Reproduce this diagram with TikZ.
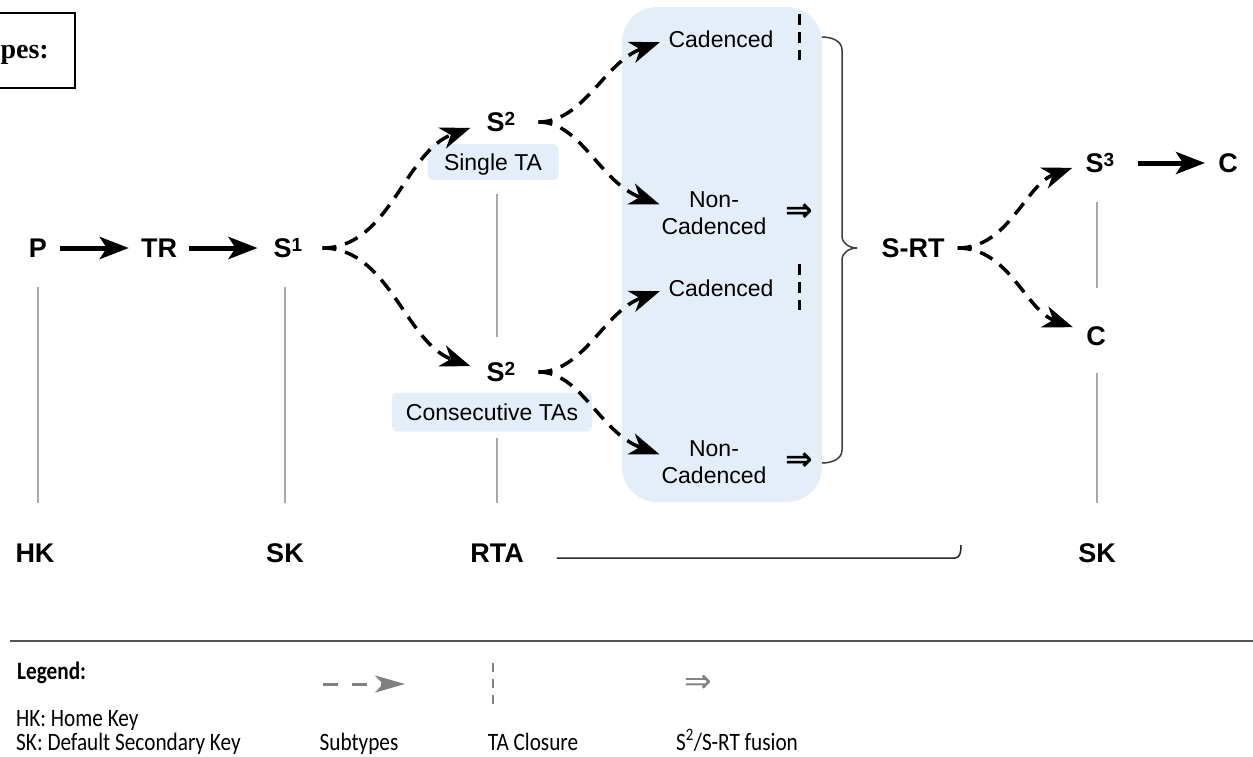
\documentclass[tikz,border=0pt]{standalone}
\usepackage{fontspec}
\setmainfont{Liberation Sans}
\newfontfamily\legfont[FakeStretch=0.85]{Carlito}
\newfontfamily\serfont{Liberation Serif}
\newfontfamily\symfont{DejaVu Sans}
\usetikzlibrary{arrows.meta,calc}
\definecolor{zonefill}{RGB}{228,238,248}
\definecolor{keygray}{RGB}{168,168,168}
\definecolor{leggray}{RGB}{128,128,128}
\definecolor{rulegray}{RGB}{85,85,85}
\definecolor{bracegray}{RGB}{60,60,60}
\newcommand\supx[1]{\raisebox{6.5pt}{\fontsize{19}{19}\selectfont #1}}
\tikzset{
  lab/.style={font=\fontsize{27}{30}\selectfont\bfseries, inner sep=0pt, text height=19pt, text depth=0pt},
  txt/.style={font=\fontsize{23}{27}\selectfont, inner sep=0pt, text height=16.5pt, text depth=0pt},
  txtb/.style={font=\fontsize{23}{27}\selectfont, inner sep=0pt, align=center},
  tag/.style={txt, fill=zonefill, rounded corners=5pt, minimum height=36pt},
  fuse/.style={font=\symfont\bfseries\fontsize{33}{33}\selectfont, inner sep=0pt},
  solidarr/.style={line width=5pt, -{Stealth[length=29pt,width=22pt,inset=7pt]}},
  dasharr/.style={line width=3.5pt, dash pattern=on 14pt off 9pt, -{Stealth[length=30pt,width=22pt,inset=9pt]}},
  keyline/.style={draw=keygray, line width=2pt},
  closure/.style={line width=3pt, dash pattern=on 11pt off 7pt},
  bracepen/.style={draw=bracegray, line width=1.5pt},
  leg/.style={font=\legfont\fontsize{25}{28}\selectfont, inner sep=0pt, anchor=base west},
  legc/.style={font=\legfont\fontsize{25}{28}\selectfont, inner sep=0pt, anchor=base},
  legarr/.style={draw=leggray, line width=3pt, dash pattern=on 15pt off 14pt, -{Stealth[length=30pt,width=17pt,inset=8pt]}},
  legclose/.style={draw=leggray, line width=2pt, dash pattern=on 9pt off 7pt},
}
\begin{document}
\begin{tikzpicture}[x=1pt,y=1pt]
\useasboundingbox (0,0) rectangle (1253,-756);
% blue zone
\fill[zonefill, rounded corners=35pt] (622,-7) rectangle (822,-502);
% title box
\draw[line width=2pt] (-5,-13) rectangle (75,-88);
\node[anchor=base east, font=\serfont\bfseries\fontsize{28}{30}\selectfont, inner sep=0pt] (title) at (49,-58) {pes:};
% main nodes
\node[lab] (p) at (38,-248) {P};
\node[lab] (tr) at (159,-248) {TR};
\node[lab] (s1) at (288,-248) {S\supx{1}};
\node[lab] (s2a) at (501,-122) {S\supx{2}};
\node[lab] (s2b) at (501,-372) {S\supx{2}};
\node[tag, minimum width=131pt] (single) at (493,-162) {Single TA};
\node[tag, minimum width=200pt, minimum height=39pt] (consec) at (492,-412) {Consecutive TAs};
\node[txt] (cad1) at (721,-39) {Cadenced};
\node[txtb] (nc1) at (714,-213) {Non-\\Cadenced};
\node[txt] (cad2) at (721,-288) {Cadenced};
\node[txtb] (nc2) at (714,-462) {Non-\\Cadenced};
\node[fuse] (f1) at (799,-213) {⇒};
\node[fuse] (f2) at (799,-462) {⇒};
\node[lab] (srt) at (913,-248) {S-RT};
\node[lab] (s3) at (1100,-163) {S\supx{3}};
\node[lab] (c1) at (1228,-163) {C};
\node[lab] (c2) at (1096,-336) {C};
\node[lab] (hk) at (35,-553) {HK};
\node[lab] (sk1) at (285,-553) {SK};
\node[lab] (rta) at (497,-553) {RTA};
\node[lab] (sk2) at (1097,-553) {SK};
% TA closures
\draw[closure] (799,-14) -- (799,-60);
\draw[closure] (799,-264) -- (799,-310);
% brace
\draw[bracepen] (822,-37) to[out=0,in=90] (842,-50) -- (842,-236) to[out=-90,in=180] (857,-248) to[out=180,in=90] (842,-260) -- (842,-450) to[out=-90,in=0] (822,-463);
% solid arrows
\draw[solidarr, shorten <=13pt, shorten >=12pt] (p) -- (tr);
\draw[solidarr, shorten <=12pt, shorten >=16pt] (tr) -- (s1);
\draw[solidarr, shorten <=23pt, shorten >=13pt] (s3) -- (c1);
% dashed branches
\draw[dasharr, shorten <=20pt, shorten >=17pt] (s1.east) to[out=0,in=200] (s2a.west);
\draw[dasharr, shorten <=20pt, shorten >=17pt] (s1.east) to[out=0,in=160] (s2b.west);
\draw[dasharr, shorten <=23pt, shorten >=9pt] (s2a.east) to[out=0,in=200] (cad1.west);
\draw[dasharr, shorten <=23pt, shorten >=2pt] (s2a.east) to[out=0,in=160] ($(nc1.west)+(0,8)$);
\draw[dasharr, shorten <=23pt, shorten >=9pt] (s2b.east) to[out=0,in=200] (cad2.west);
\draw[dasharr, shorten <=23pt, shorten >=2pt] (s2b.east) to[out=0,in=160] ($(nc2.west)+(0,7)$);
\draw[dasharr, shorten <=13pt, shorten >=14pt] (srt.east) to[out=0,in=200] (s3.west);
\draw[dasharr, shorten <=13pt, shorten >=14pt] (srt.east) to[out=0,in=160] ($(c2.west)+(0,4)$);
% key lines
\draw[keyline, shorten <=29.5pt, shorten >=40.5pt] (p.south) -- (p.south |- hk.north);
\draw[keyline, shorten <=29.5pt, shorten >=40.5pt] (s1.south -| sk1.north) -- (sk1.north);
\draw[keyline, shorten <=13.5pt, shorten >=25.5pt] (single.south -| rta.north) -- (s2b.north -| rta.north);
\draw[keyline, shorten <=6.5pt, shorten >=40.5pt] (consec.south -| rta.north) -- (rta.north);
\draw[keyline, shorten <=29.5pt, shorten >=38.5pt] (s3.south -| sk2.north) -- (c2.north -| sk2.north);
\draw[keyline, shorten <=27.5pt, shorten >=40.5pt] (c2.south -| sk2.north) -- (sk2.north);
% RTA span line
\coordinate (hook) at (961,-545);
\draw[line width=1.5pt, draw=black!85] ($(rta.east)+(33,-5)$) -- ($(hook)+(-6,-13)$) to[out=0,in=-90] (hook);
% legend
\draw[draw=rulegray, line width=2.5pt] (10,-641) -- (1253,-641);
\node[leg, font=\legfont\bfseries\fontsize{25}{28}\selectfont] (legend) at (17,-679) {Legend:};
\node[leg] (hkdef) at (16,-726) {HK: Home Key};
\node[leg] (skdef) at (16,-750) {SK: Default Secondary Key};
\node[legc] (sub) at (359,-750) {Subtypes};
\node[legc] (tac) at (533,-750) {TA Closure};
\node[legc] (fus) at (737,-750) {S\textsuperscript{2}/S-RT fusion};
\draw[legarr] (323,-684) -- (405,-684);
\draw[legclose] (493,-663) -- (493,-705);
\node[inner sep=0pt, text=leggray, font=\symfont\fontsize{33}{33}\selectfont] (legfuse) at (698,-684) {⇒};
\end{tikzpicture}
\end{document}
